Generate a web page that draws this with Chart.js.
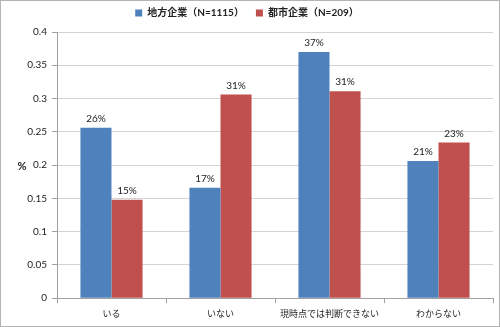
<!DOCTYPE html>
<html>
<head>
<meta charset="utf-8">
<script src="https://cdn.jsdelivr.net/npm/chart.js@4"></script>
<style>
  html, body { margin: 0; padding: 0; background: #fff; }
  #wrap { width: 500px; height: 327px; box-sizing: border-box; border: 1px solid #b4b4b4; }
</style>
</head>
<body>
<div id="wrap"><canvas id="chartJSContainer" width="498" height="325"></canvas></div>
<script>
var categories = ["いる", "いない", "現時点では判断できない", "わからない"];
var seriesNames = ["地方企業（N=1115）", "都市企業（N=209）"];
var localValues = [0.256, 0.166, 0.370, 0.206];
var cityValues = [0.148, 0.306, 0.311, 0.234];
var yTicks = [0, 0.05, 0.1, 0.15, 0.2, 0.25, 0.3, 0.35, 0.4];

var FONT = "Lato, 'Noto Sans CJK JP', sans-serif";
var LEGEND_HEIGHT = 36;

// percent labels above each bar, plus the "%" axis caption
var barLabels = {
    id: 'barLabels',
    afterInit: function(chart){
        // fixed legend height so the plot starts where it should
        var fit = chart.legend.fit;
        chart.legend.fit = function(){
            fit.call(this);
            this.height = LEGEND_HEIGHT;
        };
    },
    afterDatasetsDraw: function(chart){
        var ctx = chart.ctx;
        ctx.save();
        ctx.font = "10px " + FONT;
        ctx.fillStyle = "#222";
        ctx.textAlign = "center";
        ctx.textBaseline = "bottom";
        chart.data.datasets.forEach(function(ds, i){
            chart.getDatasetMeta(i).data.forEach(function(bar, j){
                ctx.fillText(Math.round(ds.data[j]*100) + "%", bar.x, bar.y - 4);
            });
        });
        ctx.font = "bold 11px " + FONT;
        ctx.textBaseline = "middle";
        ctx.fillText("%", 21, (chart.chartArea.top + chart.chartArea.bottom)/2 + 1);
        ctx.restore();
    }
};

new Chart('chartJSContainer', {
    type: 'bar',
    data: {
        labels: categories,
        datasets: [{
            label: seriesNames[0],
            data: localValues,
            backgroundColor: '#4f81bd',
            borderWidth: 0,
            categoryPercentage: 0.57,
            barPercentage: 1.0
        }, {
            label: seriesNames[1],
            data: cityValues,
            backgroundColor: '#c0504d',
            borderWidth: 0,
            categoryPercentage: 0.57,
            barPercentage: 1.0
        }]
    },
    options: {
        responsive: false,
        animation: false,
        layout: { padding: { left: 0, right: 6, top: -5, bottom: 2 } },
        plugins: {
            legend: {
                display: true,
                labels: {
                    boxWidth: 7,
                    boxHeight: 7,
                    padding: 12,
                    color: '#222',
                    font: { family: FONT, size: 10, weight: 'bold' }
                }
            },
            tooltip: { enabled: false }
        },
        scales: {
            x: {
                grid: {
                    display: true,
                    drawOnChartArea: false,
                    drawTicks: true,
                    tickLength: 5,
                    color: '#a0a0a0'
                },
                border: { color: '#a0a0a0' },
                ticks: {
                    color: '#222',
                    padding: 5,
                    maxRotation: 0,
                    minRotation: 0,
                    autoSkip: false,
                    font: { family: FONT, size: 9 }
                }
            },
            y: {
                min: 0,
                max: 0.4,
                afterBuildTicks: function(scale){
                    scale.ticks = yTicks.map(function(v){ return { value: v }; });
                },
                afterFit: function(scale){ scale.width = 56; },
                grid: {
                    color: '#d4d4d4',
                    tickLength: 5,
                    tickColor: '#a0a0a0'
                },
                border: { color: '#a0a0a0' },
                ticks: {
                    color: '#222',
                    padding: 5,
                    font: { family: FONT, size: 10 },
                    callback: function(v){ return String(Math.round(v*100)/100); }
                }
            }
        }
    },
    plugins: [barLabels]
});
</script>
</body>
</html>
